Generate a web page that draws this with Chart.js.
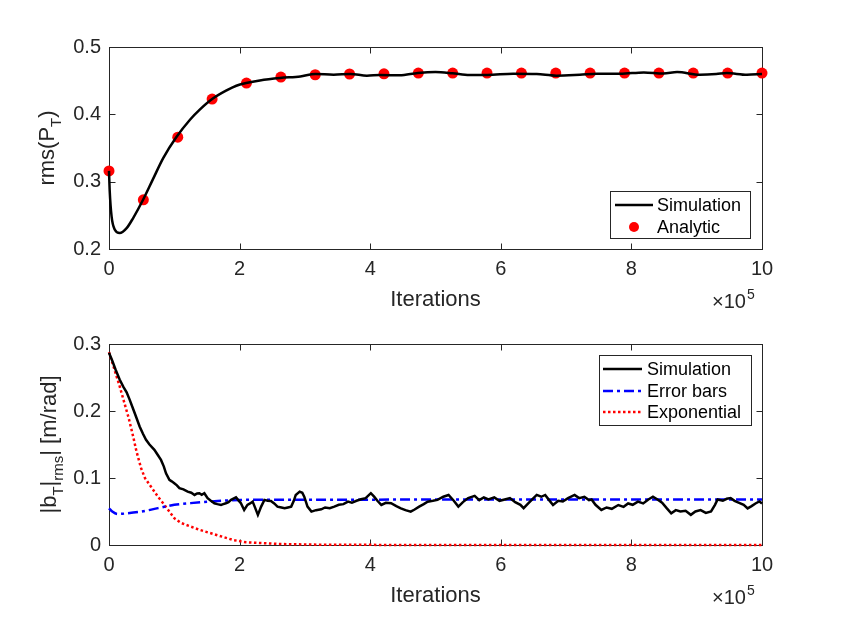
<!DOCTYPE html>
<html>
<head>
<meta charset="utf-8">
<script src="https://cdn.jsdelivr.net/npm/chart.js@4.4.1/dist/chart.umd.min.js"></script>
<style>
  html, body { margin: 0; padding: 0; background: #ffffff; }
  #wrap { position: relative; width: 842px; height: 626px; background: #ffffff; }
  #c1 { position: absolute; left: 0; top: 0; }
  #c2 { position: absolute; left: 0; top: 313px; }
</style>
</head>
<body>
<div id="wrap">
  <canvas id="c1" width="842" height="313"></canvas>
  <canvas id="c2" width="842" height="313"></canvas>
</div>
<script>
// ---------- DATA (x in units of 1e5 iterations) ----------
const topSimX = [0, 0.01, 0.04, 0.09, 0.164, 0.27, 0.37, 0.52, 0.67, 0.83, 1.03, 1.24, 1.39, 1.58, 1.8, 1.95, 2.1, 2.31, 2.62, 2.93, 3.16, 3.44, 3.7, 3.95, 4.15, 4.45, 4.73, 5.0, 5.26, 5.52, 5.79, 6.19, 6.55, 6.85, 7.21, 7.47, 7.83, 8.19, 8.49, 8.7, 9.05, 9.3, 9.46, 9.77, 10];
const topSimY = [0.316, 0.288, 0.248, 0.2285, 0.2236, 0.231, 0.246, 0.2727, 0.303, 0.335, 0.366, 0.392, 0.407, 0.4227, 0.4355, 0.4425, 0.4465, 0.4504, 0.454, 0.4563, 0.46, 0.4589, 0.46, 0.4574, 0.4584, 0.4579, 0.4614, 0.4628, 0.461, 0.4584, 0.4584, 0.4603, 0.4598, 0.4574, 0.4588, 0.4603, 0.4603, 0.4623, 0.4608, 0.4628, 0.4588, 0.4598, 0.4613, 0.4588, 0.4598];

const analyticX = [0, 0.526, 1.053, 1.579, 2.105, 2.632, 3.158, 3.684, 4.211, 4.737, 5.263, 5.789, 6.316, 6.842, 7.368, 7.895, 8.421, 8.947, 9.474, 10];
const analyticY = [0.316, 0.273, 0.366, 0.4227, 0.4465, 0.4554, 0.4588, 0.4599, 0.4602, 0.4613, 0.4613, 0.4613, 0.4613, 0.4613, 0.4613, 0.4613, 0.4613, 0.4613, 0.4613, 0.4613];

const botSimX = [0, 0.05, 0.1, 0.163, 0.22, 0.27, 0.316, 0.37, 0.42, 0.469, 0.52, 0.567, 0.62, 0.695, 0.75, 0.796, 0.84, 0.873, 0.925, 0.96, 1.0, 1.04, 1.078, 1.14, 1.205, 1.26, 1.31, 1.35, 1.384, 1.42, 1.46, 1.51, 1.56, 1.614, 1.66, 1.715, 1.75, 1.79, 1.83, 1.87, 1.945, 1.98, 2.02, 2.07, 2.12, 2.16, 2.2, 2.24, 2.28, 2.33, 2.38, 2.43, 2.48, 2.53, 2.58, 2.64, 2.69, 2.74, 2.79, 2.83, 2.86, 2.92, 2.96, 2.99, 3.04, 3.1, 3.17, 3.25, 3.31, 3.38, 3.45, 3.52, 3.59, 3.66, 3.72, 3.79, 3.86, 3.93, 4.01, 4.06, 4.11, 4.17, 4.24, 4.32, 4.4, 4.47, 4.54, 4.62, 4.68, 4.75, 4.82, 4.88, 4.96, 5.03, 5.12, 5.2, 5.28, 5.35, 5.42, 5.5, 5.6, 5.67, 5.74, 5.81, 5.9, 5.98, 6.06, 6.14, 6.22, 6.3, 6.35, 6.42, 6.5, 6.55, 6.62, 6.68, 6.74, 6.8, 6.88, 6.95, 7.03, 7.13, 7.2, 7.28, 7.35, 7.39, 7.45, 7.54, 7.62, 7.7, 7.8, 7.88, 7.95, 8.02, 8.1, 8.18, 8.26, 8.33, 8.4, 8.47, 8.54, 8.61, 8.68, 8.75, 8.83, 8.91, 8.98, 9.06, 9.14, 9.22, 9.28, 9.32, 9.4, 9.46, 9.52, 9.58, 9.65, 9.72, 9.78, 9.84, 9.9, 9.96, 10];
const botSimY = [0.287, 0.275, 0.262, 0.247, 0.236, 0.228, 0.217, 0.203, 0.19, 0.177, 0.166, 0.157, 0.15, 0.142, 0.134, 0.127, 0.117, 0.107, 0.0972, 0.095, 0.0922, 0.089, 0.0848, 0.083, 0.0797, 0.078, 0.0747, 0.077, 0.0773, 0.075, 0.0773, 0.0698, 0.066, 0.0623, 0.061, 0.0598, 0.061, 0.0623, 0.064, 0.0673, 0.0713, 0.067, 0.0623, 0.0523, 0.0598, 0.062, 0.0647, 0.055, 0.0449, 0.0573, 0.0673, 0.066, 0.0658, 0.062, 0.0573, 0.056, 0.0548, 0.056, 0.0573, 0.066, 0.0747, 0.0797, 0.078, 0.0722, 0.0573, 0.0498, 0.052, 0.0533, 0.056, 0.055, 0.0573, 0.06, 0.061, 0.0647, 0.063, 0.066, 0.0683, 0.07, 0.0773, 0.0722, 0.066, 0.0598, 0.063, 0.0623, 0.058, 0.0548, 0.052, 0.0498, 0.053, 0.0573, 0.061, 0.0647, 0.066, 0.0673, 0.072, 0.0747, 0.066, 0.0573, 0.064, 0.07, 0.0733, 0.067, 0.071, 0.068, 0.071, 0.066, 0.068, 0.07, 0.064, 0.06, 0.0549, 0.062, 0.07, 0.0747, 0.072, 0.0747, 0.067, 0.0597, 0.066, 0.065, 0.07, 0.0747, 0.07, 0.072, 0.067, 0.068, 0.06, 0.0523, 0.056, 0.054, 0.0597, 0.057, 0.062, 0.06, 0.0647, 0.062, 0.068, 0.072, 0.068, 0.063, 0.055, 0.0474, 0.052, 0.05, 0.051, 0.045, 0.05, 0.052, 0.048, 0.05, 0.06, 0.068, 0.066, 0.069, 0.07, 0.066, 0.063, 0.06, 0.0547, 0.058, 0.062, 0.065, 0.062];

const errX = [0, 0.05, 0.13, 0.25, 0.49, 0.75, 1.0, 1.25, 1.51, 1.75, 2.0, 2.5, 3.0, 4.0, 5, 6, 7, 8, 9, 10];
const errY = [0.0548, 0.05, 0.0463, 0.047, 0.0498, 0.055, 0.06, 0.0625, 0.0647, 0.0662, 0.0673, 0.0675, 0.0676, 0.0677, 0.0678, 0.0678, 0.0679, 0.068, 0.068, 0.068];

const expX = [0, 0.163, 0.3, 0.37, 0.42, 0.49, 0.55, 0.643, 0.75, 0.848, 1.0, 1.1, 1.39, 1.9, 2.1, 2.6, 3.2, 4, 5, 6, 7, 8, 9, 10];
const expY = [0.288, 0.237, 0.19, 0.162, 0.14, 0.115, 0.1, 0.087, 0.072, 0.06, 0.04, 0.033, 0.0225, 0.0075, 0.004, 0.0015, 0.0005, 0.0002, 0, 0, 0, 0, 0, 0];

const xTitle = 'Iterations';
const topYLabel = [{t: 'rms(P'}, {t: 'T', sub: true}, {t: ')'}];
const botYLabel = [{t: '|b'}, {t: 'T', sub: true}, {t: '|'}, {t: 'rms', sub: true}, {t: '| [m/rad]'}];
const topLegend = ['Simulation', 'Analytic'];
const botLegend = ['Simulation', 'Error bars', 'Exponential'];

// ---------- helpers ----------
const FONT = '"Liberation Sans", Arial, Helvetica, sans-serif';
const AXC = '#262626';
function pts(xs, ys) { return xs.map((x, i) => ({x: x, y: ys[i]})); }

function drawRich(ctx, parts, x, y, rot, mainSize, subSize, subDy, color) {
  let total = 0;
  parts.forEach(p => {
    ctx.font = (p.sub ? subSize : mainSize) + 'px ' + FONT;
    p.w = ctx.measureText(p.t).width;
    total += p.w;
  });
  ctx.save();
  ctx.translate(x, y);
  ctx.rotate(rot);
  ctx.fillStyle = color;
  ctx.textAlign = 'left';
  ctx.textBaseline = 'alphabetic';
  let cx = -total / 2;
  parts.forEach(p => {
    ctx.font = (p.sub ? subSize : mainSize) + 'px ' + FONT;
    ctx.fillText(p.t, cx, p.sub ? subDy : 0);
    cx += p.w;
  });
  ctx.restore();
}

const matlabPlugin = {
  id: 'matlab',
  beforeDatasetsDraw(chart, args, o) {
    const ctx = chart.ctx, a = chart.chartArea;
    const xs = chart.scales.x, ys = chart.scales.y;
    ctx.save();
    ctx.strokeStyle = AXC;
    ctx.lineWidth = 1;
    const L = Math.round(a.left) + 0.5, R = Math.round(a.right) + 0.5;
    const T = Math.round(a.top) + 0.5, B = Math.round(a.bottom) + 0.5;
    ctx.beginPath();
    xs.ticks.forEach(t => {
      const px = Math.round(xs.getPixelForValue(t.value)) + 0.5;
      ctx.moveTo(px, B); ctx.lineTo(px, B - 6);
      ctx.moveTo(px, T); ctx.lineTo(px, T + 6);
    });
    ys.ticks.forEach(t => {
      const py = Math.round(ys.getPixelForValue(t.value)) + 0.5;
      ctx.moveTo(L, py); ctx.lineTo(L + 6, py);
      ctx.moveTo(R, py); ctx.lineTo(R - 6, py);
    });
    ctx.stroke();
    ctx.strokeRect(L, T, R - L, B - T);
    ctx.restore();
  },
  afterDraw(chart, args, o) {
    const ctx = chart.ctx, a = chart.chartArea;
    drawRich(ctx, o.ylabel, o.ylabelX, (a.top + a.bottom) / 2, -Math.PI / 2, 22, 15, 7, AXC);
    ctx.save();
    ctx.fillStyle = AXC;
    ctx.font = '22px ' + FONT;
    ctx.textAlign = 'center';
    ctx.textBaseline = 'alphabetic';
    ctx.fillText(xTitle, (a.left + a.right) / 2, a.bottom + o.xlabelDy);
    ctx.textAlign = 'left';
    ctx.font = '20px ' + FONT;
    const base = a.bottom + o.expDy;
    ctx.fillText('\u00d710', 712, base);
    const w = ctx.measureText('\u00d710').width;
    ctx.font = '14px ' + FONT;
    ctx.fillText('5', 712 + w + 1, base - 9);
    ctx.restore();
    const lg = o.legend;
    ctx.save();
    ctx.fillStyle = '#ffffff';
    ctx.fillRect(lg.x, lg.y, lg.w, lg.h);
    ctx.strokeStyle = AXC;
    ctx.lineWidth = 1;
    ctx.strokeRect(lg.x + 0.5, lg.y + 0.5, lg.w, lg.h);
    lg.items.forEach((it, i) => {
      const cy = lg.rows[i];
      ctx.save();
      if (it.marker) {
        ctx.fillStyle = it.color;
        ctx.beginPath();
        ctx.arc((lg.sx0 + lg.sx1) / 2, cy, 5, 0, Math.PI * 2);
        ctx.fill();
      } else {
        ctx.strokeStyle = it.color;
        ctx.lineWidth = it.width;
        ctx.setLineDash(it.dash || []);
        ctx.beginPath();
        ctx.moveTo(lg.sx0, cy);
        ctx.lineTo(lg.sx1, cy);
        ctx.stroke();
      }
      ctx.restore();
      ctx.fillStyle = '#000000';
      ctx.font = '18px ' + FONT;
      ctx.textAlign = 'left';
      ctx.textBaseline = 'middle';
      ctx.fillText(it.label, lg.tx, cy + 1);
    });
    ctx.restore();
  }
};

function yTickFmt(v) { return Math.abs(v) < 1e-9 ? '0' : Number(v).toFixed(1); }

function makeScales(ymin, ymax, xh) {
  return {
    x: {
      type: 'linear', min: 0, max: 10,
      grid: { display: false, drawTicks: false },
      border: { display: false },
      ticks: { stepSize: 2, padding: 8, color: AXC, font: { family: FONT, size: 20 }, maxRotation: 0, callback: v => String(v) },
      afterFit: s => { s.height = xh; }
    },
    y: {
      type: 'linear', min: ymin, max: ymax,
      grid: { display: false, drawTicks: false },
      border: { display: false },
      ticks: { stepSize: 0.1, padding: 8, color: AXC, font: { family: FONT, size: 20 }, callback: yTickFmt },
      afterFit: s => { s.width = 60; }
    }
  };
}

Chart.defaults.font.family = FONT;

new Chart(document.getElementById('c1'), {
  type: 'line',
  data: {
    datasets: [
      { label: topLegend[0], data: pts(topSimX, topSimY), borderColor: '#000000', borderWidth: 2.5, pointRadius: 0, tension: 0.3, cubicInterpolationMode: 'monotone', clip: false },
      { label: topLegend[1], data: pts(analyticX, analyticY), showLine: false, pointRadius: 5.5, pointStyle: 'circle', backgroundColor: '#ff0000', borderColor: '#ff0000', borderWidth: 0, clip: false }
    ]
  },
  options: {
    responsive: false, animation: false, devicePixelRatio: 1,
    layout: { padding: { left: 49, right: 80, top: 47, bottom: 0 } },
    scales: makeScales(0.2, 0.5, 64),
    plugins: {
      legend: { display: false }, tooltip: { enabled: false },
      matlab: {
        ylabel: topYLabel, ylabelX: 54, xlabelDy: 57, expDy: 59,
        legend: { x: 610, y: 191, w: 140, h: 47, sx0: 615, sx1: 653, tx: 657, rows: [205, 227],
          items: [ { label: topLegend[0], color: '#000000', width: 2.5 }, { label: topLegend[1], color: '#ff0000', marker: true } ] }
      }
    }
  },
  plugins: [matlabPlugin]
});

new Chart(document.getElementById('c2'), {
  type: 'line',
  data: {
    datasets: [
      { label: botLegend[0], data: pts(botSimX, botSimY), borderColor: '#000000', borderWidth: 2.5, pointRadius: 0, tension: 0, clip: false },
      { label: botLegend[1], data: pts(errX, errY), borderColor: '#0000ff', borderWidth: 2.5, borderDash: [10, 4, 3, 4], pointRadius: 0, tension: 0.3, cubicInterpolationMode: 'monotone', clip: false },
      { label: botLegend[2], data: pts(expX, expY), borderColor: '#ff0000', borderWidth: 2.5, borderDash: [2.5, 2.5], pointRadius: 0, tension: 0, clip: false }
    ]
  },
  options: {
    responsive: false, animation: false, devicePixelRatio: 1,
    layout: { padding: { left: 49, right: 80, top: 31, bottom: 0 } },
    scales: makeScales(0, 0.3, 81),
    plugins: {
      legend: { display: false }, tooltip: { enabled: false },
      matlab: {
        ylabel: botYLabel, ylabelX: 56, xlabelDy: 57, expDy: 59,
        legend: { x: 599, y: 42, w: 152, h: 70, sx0: 603, sx1: 642, tx: 647, rows: [56, 78, 99],
          items: [ { label: botLegend[0], color: '#000000', width: 2.5 }, { label: botLegend[1], color: '#0000ff', width: 2.5, dash: [10, 4, 3, 4] }, { label: botLegend[2], color: '#ff0000', width: 2.5, dash: [2.5, 2.5] } ] }
      }
    }
  },
  plugins: [matlabPlugin]
});
</script>
</body>
</html>
